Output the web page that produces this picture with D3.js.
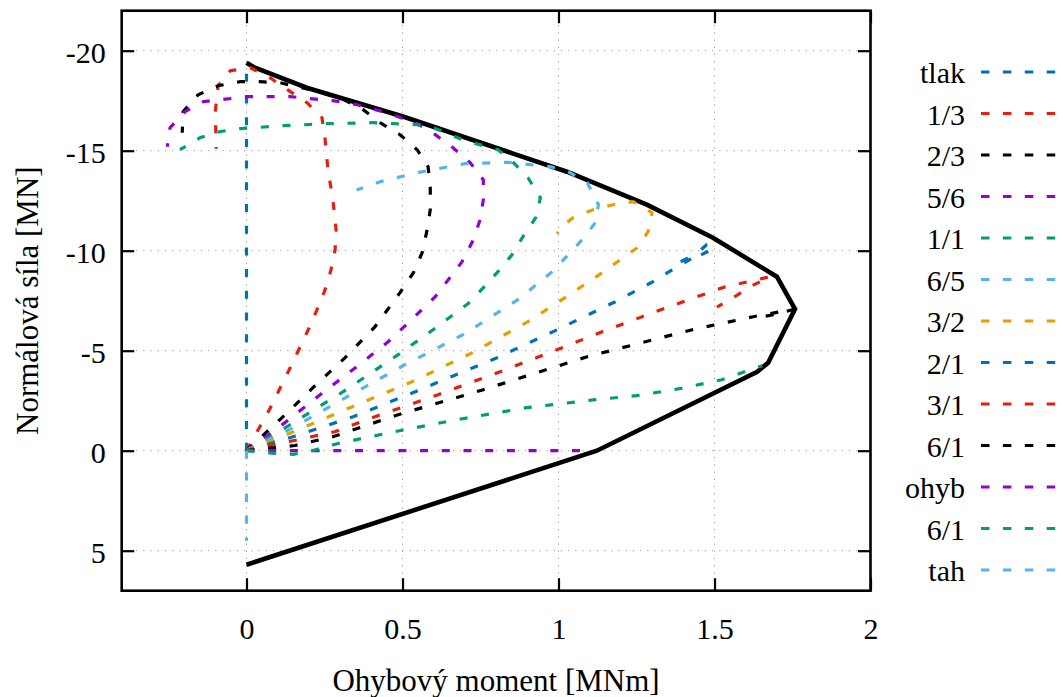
<!DOCTYPE html>
<html>
<head>
<meta charset="utf-8">
<script src="https://cdn.jsdelivr.net/npm/d3@7"></script>
<style>
  body { margin: 0; background: #fff; }
  text { font-family: "Liberation Serif", "Times New Roman", serif; fill: #000; }
</style>
</head>
<body>
<svg id="chart" width="1063" height="697"></svg>
<script>
// Interaction diagram: bending moment M [MNm] vs. normal force N [MN]

const momentTicks = [0, 0.5, 1, 1.5, 2];
const forceTicks = [-20, -15, -10, -5, 0, 5];

// Resistance envelope (solid thick line), [M, N]
const envelope = [
  [0, -19.4], [0.027, -19.15], [0.193, -18.15], [0.504, -16.7], [1.027, -13.95],
  [1.283, -12.3], [1.495, -10.65], [1.70, -8.7], [1.758, -7.08], [1.672, -4.4],
  [1.637, -3.95], [1.123, 0], [0, 5.7]
];

// Loading paths, [M, N]
const pathTlak = [[0, 0], [0, -19.3]];
const path1to3 = [
  [0, 0], [0.075, -2.1], [0.14, -4.15], [0.198, -6.05], [0.226, -7.05], [0.252, -8.05],
  [0.271, -9.05], [0.284, -10.05], [0.287, -11.05], [0.277, -12.55], [0.261, -14.05],
  [0.252, -15.55], [0.242, -16.65], [0.194, -17.4], [0.131, -18.05], [0.075, -18.65],
  [0.012, -19.15], [-0.052, -19.0], [-0.091, -18.25], [-0.1, -16.95], [-0.097, -15.1]
];
const path2to3 = [
  [0, 0], [0.114, -1.65], [0.213, -3.15], [0.316, -4.65], [0.412, -6.2], [0.492, -7.9],
  [0.535, -8.9], [0.563, -9.9], [0.579, -11.05], [0.589, -12.05], [0.589, -13.15],
  [0.582, -14.2], [0.547, -15.05], [0.492, -15.8], [0.428, -16.4], [0.374, -17.05],
  [0.3, -17.65], [0.203, -18.05], [0.108, -18.4], [0.043, -18.45], [-0.02, -18.45],
  [-0.091, -18.25], [-0.155, -17.8], [-0.203, -16.95], [-0.206, -15.9]
];
const path5to6 = [
  [0, 0], [0.126, -1.43], [0.236, -2.8], [0.349, -4.15], [0.454, -5.45], [0.502, -6.15],
  [0.605, -7.7], [0.691, -9.45], [0.724, -10.45], [0.749, -11.55], [0.759, -12.55],
  [0.759, -13.55], [0.717, -14.4], [0.662, -15.15], [0.605, -15.8], [0.547, -16.35],
  [0.46, -16.85], [0.355, -17.3], [0.277, -17.5], [0.14, -17.7], [0.002, -17.7],
  [-0.139, -17.45], [-0.197, -16.95], [-0.245, -16.15], [-0.254, -15.2]
];
const path1to1 = [
  [0, 0], [0.134, -1.24], [0.31, -2.95], [0.486, -4.8], [0.598, -6.05], [0.71, -7.35],
  [0.759, -8.15], [0.806, -8.95], [0.851, -9.8], [0.886, -10.7], [0.927, -11.65],
  [0.942, -12.65], [0.902, -13.65], [0.856, -14.4], [0.806, -15.05], [0.7, -15.5],
  [0.598, -16.15], [0.547, -16.3], [0.404, -16.4], [0.258, -16.35], [0.118, -16.25],
  [-0.02, -16.1], [-0.088, -15.95], [-0.149, -15.65], [-0.213, -15.05]
];
const path6to5 = [
  [0, 0], [0.14, -1.08], [0.323, -2.7], [0.508, -4.3], [0.694, -5.8], [0.87, -7.55],
  [0.98, -8.95], [1.076, -10.55], [1.118, -11.4], [1.128, -12.3], [1.092, -13.4],
  [1.031, -13.95], [0.974, -14.2], [0.836, -14.42], [0.7, -14.35], [0.562, -13.95],
  [0.428, -13.45], [0.353, -13.03]
];
const path3to2 = [
  [0, 0], [0.145, -0.91], [0.339, -2.2], [0.531, -3.45], [0.724, -4.9], [0.902, -6.45],
  [1.021, -7.65], [1.14, -8.9], [1.252, -10.15], [1.287, -10.95], [1.3, -11.9],
  [1.239, -12.45], [1.175, -12.3], [1.111, -12.05], [1.047, -11.65], [1.005, -11.15],
  [0.996, -10.85]
];
const path2to1 = [
  [0, 0], [0.149, -0.7], [0.342, -1.7], [0.541, -2.95], [0.803, -4.65], [0.996, -6.05],
  [1.182, -7.45], [1.303, -8.45], [1.36, -9.0], [1.42, -9.55], [1.475, -10.3],
  [1.49, -10.35], [1.49, -10.05], [1.445, -9.7], [1.41, -9.6], [1.355, -9.15]
];
const path3to1 = [
  [0, 0], [0.153, -0.51], [0.283, -0.95], [0.412, -1.7], [0.614, -2.8], [0.813, -3.95],
  [1.012, -5.15], [1.14, -5.95], [1.268, -6.7], [1.399, -7.45], [1.535, -8.2],
  [1.678, -8.7], [1.614, -8.2], [1.559, -7.64], [1.508, -7.18]
];
const path6to1 = [
  [0, 0], [0.155, -0.26], [0.277, -0.7], [0.486, -1.8], [0.759, -3.05], [1.092, -4.7],
  [1.429, -6.05], [1.624, -6.7], [1.752, -7.06], [1.69, -6.8], [1.625, -6.62]
];
const pathOhyb = [[0, 0], [1.11, 0]];
const path6to1b = [
  [0, 0], [0.08, 0.12], [0.15, 0.18], [0.21, 0.0], [0.29, -0.35], [0.49, -1.0],
  [0.692, -1.6], [0.897, -2.15], [1.117, -2.55], [1.25, -2.75], [1.388, -3.1],
  [1.523, -3.55], [1.653, -4.25]
];
const pathTah = [[0, 0], [0, 4.5]];

const seriesLabels = ["tlak", "1/3", "2/3", "5/6", "1/1", "6/5", "3/2", "2/1", "3/1", "6/1", "ohyb", "6/1", "tah"];
const seriesPaths = [pathTlak, path1to3, path2to3, path5to6, path1to1, path6to5, path3to2,
                     path2to1, path3to1, path6to1, pathOhyb, path6to1b, pathTah];
const seriesColors = ["#0072b2", "#e51e10", "#000000", "#9400d3", "#009e73", "#56b4e9", "#e69f00",
                      "#0072b2", "#e51e10", "#000000", "#9400d3", "#009e73", "#56b4e9"];

// Layout
const W = 1063, H = 697;
const box = { left: 121.7, right: 870.5, top: 10.7, bottom: 590.7 };
const fontSize = 30;
const titleSize = 31;
const dash = "8,13.7";

const svg = d3.select("#chart");

const x = d3.scaleLinear().domain([-0.4, 2]).range([box.left, box.right]);
const y = d3.scaleLinear().domain([-22, 7]).range([box.top, box.bottom]);

// Dotted grid
const grid = svg.append("g").attr("class", "grid")
  .attr("stroke", "#9a9a9a").attr("stroke-width", 1).attr("stroke-dasharray", "1.2,6");
grid.selectAll("line.gx").data(momentTicks).join("line")
  .attr("x1", d => x(d)).attr("x2", d => x(d))
  .attr("y1", box.top).attr("y2", box.bottom);
grid.selectAll("line.gy").data(forceTicks).join("line")
  .attr("x1", box.left).attr("x2", box.right)
  .attr("y1", d => y(d)).attr("y2", d => y(d));

// Axes: inward ticks on all four sides, labels on bottom and left
const tickLen = 12.5;
function styleAxis(g) {
  g.select(".domain").remove();
  g.selectAll(".tick line").attr("stroke", "#000").attr("stroke-width", 2.2);
  g.selectAll(".tick text").attr("font-size", fontSize)
    .attr("font-family", '"Liberation Serif", "Times New Roman", serif').attr("fill", "#000");
}
svg.append("g").attr("transform", `translate(0,${box.bottom})`)
  .call(d3.axisBottom(x).tickValues(momentTicks).tickSize(-tickLen).tickPadding(27)
    .tickFormat(d => String(d)))
  .call(styleAxis);
svg.append("g").attr("transform", `translate(0,${box.top})`)
  .call(d3.axisTop(x).tickValues(momentTicks).tickSize(-tickLen).tickFormat(""))
  .call(styleAxis);
const leftAxis = svg.append("g").attr("transform", `translate(${box.left},0)`)
  .call(d3.axisLeft(y).tickValues(forceTicks).tickSize(-tickLen).tickPadding(16)
    .tickFormat(d => String(d)))
  .call(styleAxis);
leftAxis.selectAll(".tick text").attr("dy", "0.4em");
svg.append("g").attr("transform", `translate(${box.right},0)`)
  .call(d3.axisRight(y).tickValues(forceTicks).tickSize(-tickLen).tickFormat(""))
  .call(styleAxis);

const line = d3.line().x(d => x(d[0])).y(d => y(d[1]));

// Envelope
svg.append("path").datum(envelope)
  .attr("d", line).attr("fill", "none")
  .attr("stroke", "#000").attr("stroke-width", 4.6).attr("stroke-linejoin", "miter");

// Loading paths
svg.append("g").selectAll("path").data(seriesPaths).join("path")
  .attr("d", line).attr("fill", "none")
  .attr("stroke", (d, i) => seriesColors[i])
  .attr("stroke-width", 3.2)
  .attr("stroke-dasharray", dash);

// Frame
svg.append("rect")
  .attr("x", box.left).attr("y", box.top)
  .attr("width", box.right - box.left).attr("height", box.bottom - box.top)
  .attr("fill", "none").attr("stroke", "#000").attr("stroke-width", 2.6);

// Axis titles
svg.append("text")
  .attr("x", (box.left + box.right) / 2).attr("y", 691)
  .attr("text-anchor", "middle").attr("font-size", titleSize)
  .text("Ohybový moment [MNm]");
svg.append("text")
  .attr("transform", `translate(38,${(box.top + box.bottom) / 2}) rotate(-90)`)
  .attr("text-anchor", "middle").attr("font-size", titleSize)
  .text("Normálová síla [MN]");

// Legend
const legend = svg.append("g");
const rowY = i => 72 + 41.5 * i;
legend.selectAll("text").data(seriesLabels).join("text")
  .attr("x", 965).attr("y", (d, i) => rowY(i)).attr("dy", "0.38em")
  .attr("text-anchor", "end").attr("font-size", fontSize)
  .text(d => d);
legend.selectAll("line").data(seriesLabels).join("line")
  .attr("x1", 981).attr("x2", W)
  .attr("y1", (d, i) => rowY(i)).attr("y2", (d, i) => rowY(i))
  .attr("stroke", (d, i) => seriesColors[i])
  .attr("stroke-width", 3.2)
  .attr("stroke-dasharray", "8.5,13.4");
</script>
</body>
</html>
